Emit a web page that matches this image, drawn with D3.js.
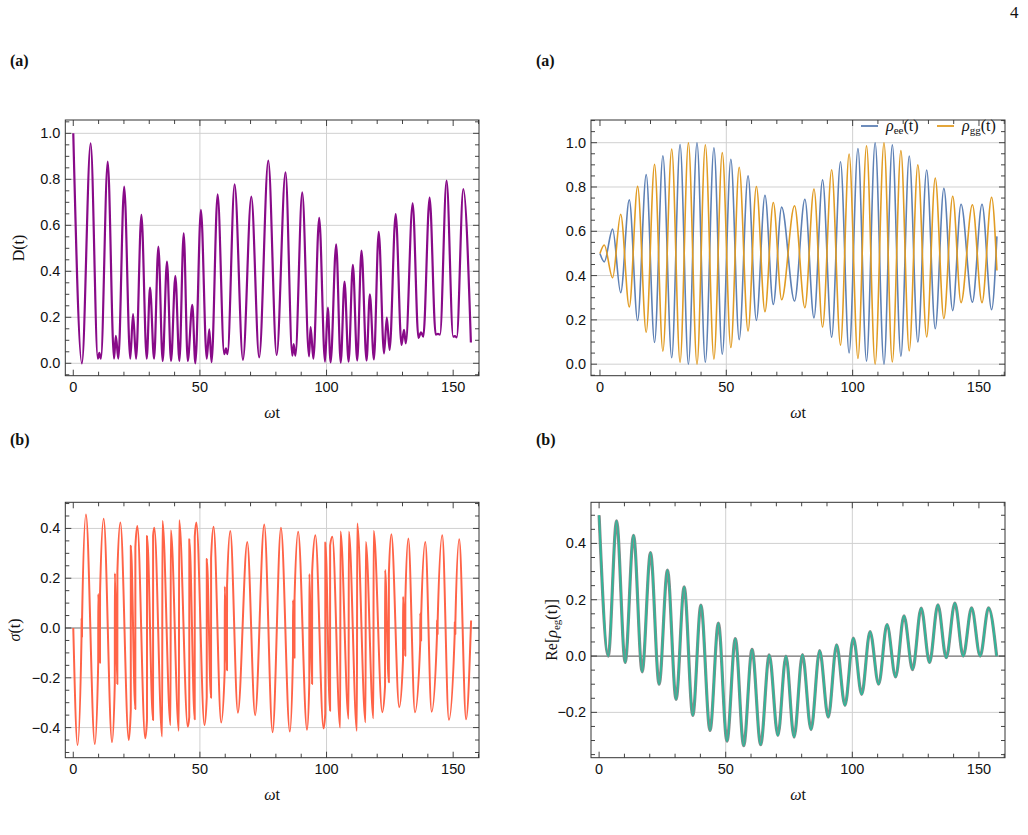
<!DOCTYPE html>
<html>
<head>
<meta charset="utf-8">
<script src="https://cdn.jsdelivr.net/npm/d3@7"></script>
<style>
  body { margin: 0; background: #fff; }
  svg text { fill: #111; }
</style>
</head>
<body>
<svg id="fig" width="1028" height="835"></svg>
<script>
// D(t): extrema (a) left
const dTime = [0, 3.4, 6.85, 9.7, 10.3, 10.9, 13.6, 16.1, 16.8, 17.8, 20.1, 22.5, 23.6, 24.8, 26.9, 29.0, 30.3, 31.9,
  33.6, 35.3, 37.0, 38.6, 40.3, 41.9, 43.6, 45.2, 47.0, 48.2, 50.4, 52.7, 53.7, 54.6, 57.0, 59.6, 60.3, 60.9,
  63.7, 67.0, 70.3, 73.4, 77.0, 80.3, 83.8, 86.5, 87.0, 87.7, 90.4, 93.1, 93.7, 94.8, 97.1, 99.4, 100.5, 101.6,
  103.8, 105.6, 107.1, 108.7, 110.4, 112.1, 113.8, 115.8, 117.1, 118.7, 120.6, 122.7, 123.8, 124.9, 127.3,
  129.6, 130.6, 131.3, 134.0, 136.3, 137.3, 138.2, 140.7, 143.1, 144.0, 144.8, 147.4, 150.0, 150.7, 151.4, 154.0, 157.0];
const dValue = [1.0, 0.0, 0.957, 0.02, 0.045, 0.02, 0.877, 0.02, 0.119, 0.02, 0.768, 0.02, 0.214, 0.02, 0.645, 0.02, 0.329, 0.02,
  0.507, 0.01, 0.442, 0.01, 0.38, 0.01, 0.565, 0.01, 0.254, 0.0, 0.667, 0.02, 0.148, 0.005, 0.735, 0.04, 0.065, 0.04,
  0.778, 0.015, 0.725, 0.026, 0.881, 0.036, 0.83, 0.033, 0.083, 0.033, 0.743, 0.03, 0.157, 0.02, 0.633, 0.007, 0.242, 0.004,
  0.517, 0.003, 0.355, 0.007, 0.428, 0.012, 0.49, 0.012, 0.30, 0.017, 0.572, 0.043, 0.199, 0.058, 0.649,
  0.08, 0.145, 0.087, 0.696, 0.11, 0.135, 0.116, 0.72, 0.125, 0.128, 0.125, 0.794, 0.116, 0.118, 0.113, 0.757, 0.09];

// rho_ee and rho_gg: extrema (a) right
const rhoTime = [0, 1.7, 5.0, 8.2, 11.6, 14.9, 18.3, 21.6, 24.9, 28.4, 31.7, 35.0, 38.4, 41.7, 45.1, 48.4, 51.8, 55.1,
  58.6, 61.9, 65.3, 68.6, 71.9, 77.0, 81.1, 84.7, 88.1, 91.7, 95.2, 98.6, 102.1, 105.5, 108.9, 112.4, 115.7,
  119.1, 122.4, 125.8, 129.3, 132.7, 136.1, 139.6, 142.9, 147.4, 151.2, 155.0, 157.1];
const rhoEE = [0.5, 0.462, 0.61, 0.323, 0.742, 0.197, 0.856, 0.098, 0.941, 0.029, 0.992, 0.0, 1.0, 0.009, 0.977, 0.045, 0.925, 0.111,
  0.85, 0.198, 0.763, 0.27, 0.709, 0.285, 0.745, 0.209, 0.832, 0.122, 0.914, 0.051, 0.974, 0.014, 1.0, 0.0, 0.99,
  0.036, 0.94, 0.1, 0.877, 0.16, 0.794, 0.242, 0.722, 0.28, 0.722, 0.246, 0.577];
const rhoGG = [0.5, 0.538, 0.39, 0.677, 0.258, 0.803, 0.144, 0.902, 0.059, 0.971, 0.008, 1.0, 0.0, 0.991, 0.023, 0.955, 0.075, 0.889,
  0.15, 0.802, 0.237, 0.73, 0.291, 0.715, 0.255, 0.791, 0.168, 0.878, 0.086, 0.949, 0.026, 0.986, 0.0, 1.0, 0.01,
  0.964, 0.06, 0.9, 0.123, 0.84, 0.206, 0.758, 0.278, 0.72, 0.278, 0.754, 0.423];

// sigma(t): extrema and the two ends of every vertical jump (b) left
const sigTime = [0, 1.7, 3.25, 3.27, 3.45, 3.47, 5.0,
  8.5, 9.85, 9.87, 10.55, 10.57, 12.0,
  15.3, 16.4, 16.42, 17.4, 17.42, 18.6,
  21.9, 22.7, 22.72, 24.5, 24.52, 25.3,
  28.4, 29.1, 29.12, 31.5, 31.52, 32.0,
  35.1, 35.2, 38.4, 38.5, 41.7, 41.8, 45.2, 45.8, 45.82, 47.95, 47.97, 48.6,
  51.8, 52.7, 52.72, 54.4, 54.42, 55.4,
  58.4, 59.8, 59.82, 60.7, 60.72, 62.0, 65.0, 68.7, 71.8, 75.4, 78.7, 82.0,
  85.5, 86.75, 86.77, 87.35, 87.37, 88.8,
  92.3, 93.2, 93.22, 94.3, 94.32, 95.6,
  98.8, 99.5, 99.52, 101.4, 101.42, 102.3,
  105.4, 105.5, 108.7, 108.8, 112.0, 112.1, 115.4, 115.5, 118.5, 118.6,
  122.0, 123.1, 123.12, 124.6, 124.62, 125.6,
  128.7, 130.2, 130.22, 131.1, 131.12, 132.3,
  134.9, 137.0, 137.02, 137.35, 137.37, 139.0,
  141.5, 143.6, 143.62, 143.85, 143.87, 145.7,
  148.3, 150.6, 150.62, 150.85, 150.87, 152.4,
  155.1, 157.08];
const sigValue = [0, -0.47, -0.04, 0.04, -0.035, 0.035, 0.456,
  -0.466, -0.137, 0.137, -0.14, 0.14, 0.439,
  -0.459, -0.22, 0.22, -0.225, 0.225, 0.424,
  -0.45, -0.33, 0.33, -0.325, 0.325, 0.41,
  -0.443, -0.37, 0.37, -0.37, 0.37, 0.403,
  -0.436, 0.43, -0.39, 0.393, -0.413, 0.433, -0.396, -0.357, 0.357, -0.367, 0.367, 0.424,
  -0.39, -0.277, 0.277, -0.28, 0.28, 0.407,
  -0.38, -0.167, 0.167, -0.17, 0.17, 0.39, -0.34, 0.346, -0.35, 0.416, -0.419, 0.403,
  -0.416, -0.112, 0.112, -0.119, 0.119, 0.387,
  -0.409, -0.217, 0.217, -0.225, 0.225, 0.373,
  -0.403, -0.344, 0.344, -0.332, 0.332, 0.367,
  -0.4, 0.388, -0.365, 0.387, -0.413, 0.42, -0.379, 0.346, -0.363, 0.39,
  -0.338, -0.233, 0.233, -0.218, 0.218, 0.377,
  -0.318, -0.126, 0.126, -0.111, 0.111, 0.36,
  -0.338, -0.059, 0.059, -0.05, 0.05, 0.346,
  -0.336, -0.032, 0.032, -0.024, 0.024, 0.373,
  -0.369, -0.025, 0.025, -0.024, 0.024, 0.357,
  -0.367, 0.03];

// Re[rho_eg(t)]: extrema (b) right
const reTime = [0, 3.6, 6.9, 10.3, 13.6, 17.0, 20.3, 23.7, 27.0, 30.4, 33.6, 37.0, 40.2, 43.8, 47.1, 50.5, 53.8, 57.1,
  60.4, 63.8, 67.2, 70.6, 73.8, 77.0, 80.3, 83.7, 87.1, 90.5, 93.8, 97.1, 100.4, 103.7, 107.0, 110.4, 113.7,
  117.1, 120.4, 123.8, 127.2, 130.5, 133.8, 137.1, 140.5, 143.8, 147.1, 150.5, 153.8, 157.0];
const reValue = [0.5, 0.0, 0.48, -0.023, 0.429, -0.056, 0.367, -0.1, 0.305, -0.154, 0.246, -0.211, 0.181, -0.264, 0.117, -0.302, 0.062, -0.318,
  0.024, -0.315, 0.004, -0.282, 0.0, -0.288, 0.005, -0.261, 0.019, -0.217, 0.04, -0.175, 0.064, -0.136, 0.087, -0.1, 0.112,
  -0.074, 0.143, -0.048, 0.17, -0.023, 0.182, -0.006, 0.188, 0.0, 0.171, 0.0, 0.171, 0.0];

const xTicks = [0, 50, 100, 150];
const xGrid = [50, 100];

const svg = d3.select("#fig");
const fmt = d => (d < 0 ? "\u2212" : "") + Math.abs(d).toFixed(1);

function panel(box, xDom, yDom, yTicks, yGrid, zeroLine, id) {
  const x = d3.scaleLinear().domain(xDom).range([box.l, box.r]);
  const y = d3.scaleLinear().domain(yDom).range([box.b, box.t]);
  const g = svg.append("g");

  g.append("clipPath").attr("id", id).append("rect")
    .attr("x", box.l).attr("y", box.t).attr("width", box.r - box.l).attr("height", box.b - box.t);

  // grid
  g.selectAll(".gy").data(yGrid).join("line")
    .attr("x1", box.l).attr("x2", box.r).attr("y1", d => y(d)).attr("y2", d => y(d))
    .attr("stroke", "#d0d0d0").attr("stroke-width", 1);
  g.selectAll(".gx").data(xGrid).join("line")
    .attr("y1", box.t).attr("y2", box.b).attr("x1", d => x(d)).attr("x2", d => x(d))
    .attr("stroke", "#d0d0d0").attr("stroke-width", 1);
  if (zeroLine) {
    g.append("line").attr("x1", box.l).attr("x2", box.r).attr("y1", y(0)).attr("y2", y(0))
      .attr("stroke", "#6e6e6e").attr("stroke-width", 1.2);
  }

  // frame ticks (inward, all four sides)
  const xMinor = d3.range(0, 161, 10);
  const yMinor = d3.range(Math.ceil(yDom[0] / 0.05) * 0.05, yDom[1], 0.05);
  const tk = g.append("g").attr("stroke", "#444").attr("stroke-width", 1);
  xMinor.forEach(v => {
    const L = v % 50 === 0 ? 6 : 4;
    tk.append("line").attr("x1", x(v)).attr("x2", x(v)).attr("y1", box.b).attr("y2", box.b - L);
    tk.append("line").attr("x1", x(v)).attr("x2", x(v)).attr("y1", box.t).attr("y2", box.t + L);
  });
  yMinor.forEach(v => {
    const major = yTicks.some(t => Math.abs(t - v) < 1e-6);
    const L = major ? 6 : 4;
    tk.append("line").attr("y1", y(v)).attr("y2", y(v)).attr("x1", box.l).attr("x2", box.l + L);
    tk.append("line").attr("y1", y(v)).attr("y2", y(v)).attr("x1", box.r).attr("x2", box.r - L);
  });

  g.append("rect").attr("x", box.l).attr("y", box.t).attr("width", box.r - box.l).attr("height", box.b - box.t)
    .attr("fill", "none").attr("stroke", "#333").attr("stroke-width", 1);

  // tick labels
  g.selectAll(".xl").data(xTicks).join("text")
    .attr("x", d => x(d)).attr("y", box.b + 16).attr("text-anchor", "middle")
    .style("font-family", "Liberation Sans, Arial, sans-serif").style("font-size", "14.5px")
    .text(d => d);
  g.selectAll(".yl").data(yTicks).join("text")
    .attr("x", box.l - 5).attr("y", d => y(d) + 5).attr("text-anchor", "end")
    .style("font-family", "Liberation Sans, Arial, sans-serif").style("font-size", "14.5px")
    .text(fmt);

  // x label
  const xl = g.append("text").attr("x", (box.l + box.r) / 2).attr("y", box.b + 42).attr("text-anchor", "middle")
    .style("font-family", "Liberation Serif, Times New Roman, serif").style("font-size", "16px");
  xl.append("tspan").style("font-style", "italic").text("\u03c9");
  xl.append("tspan").text("t");

  return { x, y, g, id };
}

function curve(p, T, V, color, width) {
  const line = d3.line().x(d => p.x(d[0])).y(d => p.y(d[1])).curve(d3.curveMonotoneX);
  p.g.append("path").datum(d3.zip(T, V)).attr("d", line)
    .attr("clip-path", "url(#" + p.id + ")")
    .attr("fill", "none").attr("stroke", color).attr("stroke-width", width).attr("stroke-linejoin", "round");
}

const serif = "Liberation Serif, Times New Roman, serif";

// panel (a) left: D(t)
const p1 = panel({ l: 65.3, r: 479, t: 120, b: 375.7 }, [-3.15, 160.2], [-0.054, 1.058],
  [0, 0.2, 0.4, 0.6, 0.8, 1.0], [0, 0.2, 0.4, 0.6, 0.8, 1.0], false, "c1");
curve(p1, dTime, dValue, "#880a88", 2.2);

// panel (a) right: populations
const p2 = panel({ l: 591, r: 1005, t: 120, b: 375.7 }, [-3.55, 160.3], [-0.052, 1.1025],
  [0, 0.2, 0.4, 0.6, 0.8, 1.0], [0, 0.2, 0.4, 0.6, 0.8, 1.0], false, "c2");
curve(p2, rhoTime, rhoEE, "#5e81b5", 1.6);
curve(p2, rhoTime, rhoGG, "#e19c24", 1.6);

// panel (b) left: sigma(t)
const p3 = panel({ l: 65.3, r: 479, t: 502.3, b: 757.7 }, [-3.15, 160.2], [-0.521, 0.505],
  [-0.4, -0.2, 0, 0.2, 0.4], [-0.4, -0.2, 0.2, 0.4], true, "c3");
curve(p3, sigTime, sigValue, "#ff6347", 2);

// panel (b) right: coherence
const p4 = panel({ l: 591, r: 1005, t: 502.3, b: 757.7 }, [-3.2, 160.3], [-0.361, 0.546],
  [-0.2, 0, 0.2, 0.4], [-0.2, 0.2, 0.4], true, "c4");
curve(p4, reTime, reValue, "#8a8a8a", 3.2);
curve(p4, reTime, reValue, "#2db89a", 1.8);

// y labels
function yLabel(xp, yp, parts) {
  const t = svg.append("text").attr("transform", `translate(${xp},${yp}) rotate(-90)`).attr("text-anchor", "middle")
    .style("font-family", serif).style("font-size", "16px");
  parts.forEach(([s, style]) => {
    const sp = t.append("tspan").text(s);
    if (style === "i") sp.style("font-style", "italic");
    if (style === "sub") sp.attr("baseline-shift", "-25%").style("font-size", "11px");
  });
}
yLabel(24, 248, [["D(t)"]]);
yLabel(20, 630, [["\u03c3", "i"], ["(t)"]]);
yLabel(557, 630, [["Re["], ["\u03c1", "i"], ["eg", "sub"], ["(t)]"]]);

// legend in panel (a) right
const leg = [["ee", "#5e81b5", 861], ["gg", "#e19c24", 937]];
leg.forEach(([sub, c, lx]) => {
  svg.append("line").attr("x1", lx).attr("x2", lx + 17).attr("y1", 126).attr("y2", 126)
    .attr("stroke", c).attr("stroke-width", 1.8);
  const t = svg.append("text").attr("x", lx + 25).attr("y", 131).style("font-family", serif).style("font-size", "16px");
  t.append("tspan").style("font-style", "italic").text("\u03c1");
  t.append("tspan").attr("baseline-shift", "-25%").style("font-size", "11px").text(sub);
  t.append("tspan").attr("baseline-shift", "0%").text("(t)");
});

// panel tags and page number
[["(a)", 10, 66], ["(a)", 536, 66], ["(b)", 10, 445], ["(b)", 536, 445]].forEach(([s, tx, ty]) => {
  svg.append("text").attr("x", tx).attr("y", ty).text(s)
    .style("font-family", serif).style("font-size", "16px").style("font-weight", "bold");
});
svg.append("text").attr("x", 1010).attr("y", 18).text("4").style("font-family", serif).style("font-size", "17px");
</script>
</body>
</html>
